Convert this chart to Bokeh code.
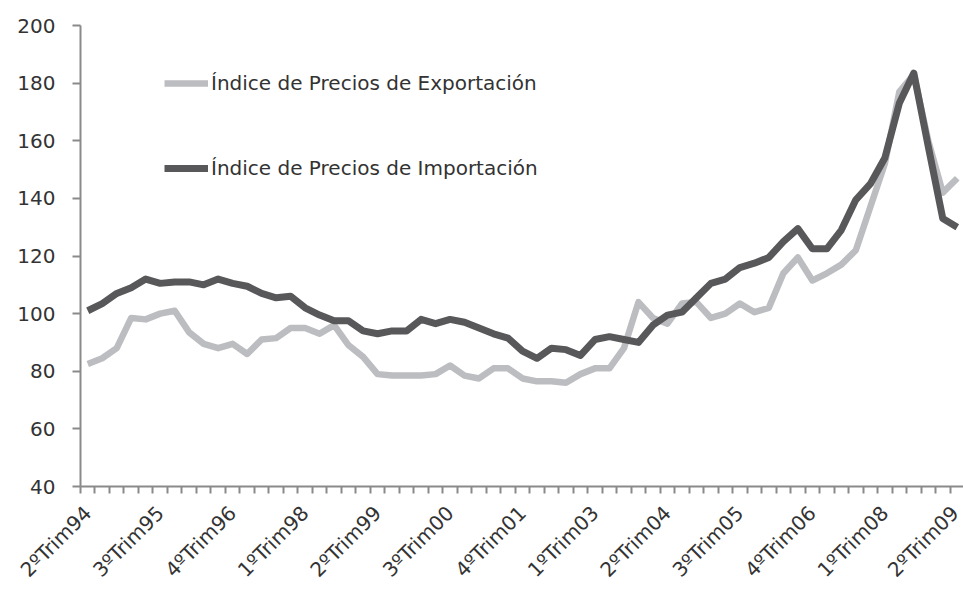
from bokeh.plotting import figure
from bokeh.models import Range1d, FixedTicker, Legend, LegendItem, ColumnDataSource
from bokeh.embed import file_html
from bokeh.resources import INLINE
import math

tick_labels = ["2ºTrim94", "3ºTrim95", "4ºTrim96", "1ºTrim98", "2ºTrim99", "3ºTrim00",
               "4ºTrim01", "1ºTrim03", "2ºTrim04", "3ºTrim05", "4ºTrim06", "1ºTrim08", "2ºTrim09"]

exportacion = [82.5, 84.5, 88, 98.5, 98, 100, 101, 93.5, 89.5, 88,
               89.5, 86, 91, 91.5, 95, 95, 93, 96, 89, 85,
               79, 78.5, 78.5, 78.5, 79, 82, 78.5, 77.5, 81, 81,
               77.5, 76.5, 76.5, 76, 79, 81, 81, 88, 104, 98.5,
               96.5, 103.5, 104, 98.5, 100, 103.5, 100.5, 102, 114, 119.5,
               111.5, 114, 117, 122, 137, 152, 177, 183, 160, 142,
               147]

importacion = [101, 103.5, 107, 109, 112, 110.5, 111, 111, 110, 112,
               110.5, 109.5, 107, 105.5, 106, 102, 99.5, 97.5, 97.5, 94,
               93, 94, 94, 98, 96.5, 98, 97, 95, 93, 91.5,
               87, 84.5, 88, 87.5, 85.5, 91, 92, 91, 90, 96,
               99.5, 100.5, 105.5, 110.5, 112, 116, 117.5, 119.5, 125, 129.5,
               122.5, 122.5, 129, 139.5, 145, 154, 173, 183.5, 158, 133,
               130]

idx = list(range(len(importacion)))
src = ColumnDataSource(dict(x=idx, exp=exportacion, imp=importacion))

FONT = "DejaVu Sans"
TXT = "#333333"
AX = "#8a8a8a"

p = figure(width=963, height=600, output_backend="svg", toolbar_location=None,
           x_range=Range1d(-0.5, 60.43), y_range=Range1d(40, 200),
           min_border_left=80, min_border_right=0, min_border_top=25, min_border_bottom=114)
p.outline_line_color = None
p.xgrid.grid_line_color = None
p.ygrid.grid_line_color = None

r_exp = p.line("x", "exp", source=src, line_color="#bcbdc0", line_width=6.5, line_join="round")
r_imp = p.line("x", "imp", source=src, line_color="#58585a", line_width=7, line_join="round")

# y axis
ya = p.yaxis[0]
ya.ticker = FixedTicker(ticks=[40, 60, 80, 100, 120, 140, 160, 180, 200], minor_ticks=[])
ya.axis_line_color = AX
ya.axis_line_width = 2
ya.major_tick_line_color = AX
ya.major_tick_line_width = 2
ya.major_tick_out = 8
ya.major_tick_in = 0
ya.minor_tick_line_color = None
ya.major_label_standoff = 17
ya.major_label_text_font = FONT
ya.major_label_text_font_size = "20px"
ya.major_label_text_color = TXT

# x axis
xa = p.xaxis[0]
label_pos = list(range(0, 61, 5))
xa.ticker = FixedTicker(ticks=label_pos, minor_ticks=[i + 0.5 for i in range(-1, 61)])
xa.major_label_overrides = {pos: lab for pos, lab in zip(label_pos, tick_labels)}
xa.axis_line_color = AX
xa.axis_line_width = 2
xa.major_tick_line_color = None
xa.major_tick_out = 7
xa.minor_tick_line_color = AX
xa.minor_tick_line_width = 2
xa.minor_tick_out = 7
xa.minor_tick_in = 0
xa.major_label_orientation = math.pi / 4
xa.major_label_standoff = 16
xa.major_label_text_font = FONT
xa.major_label_text_font_size = "20px"
xa.major_label_text_color = TXT

legend = Legend(items=[LegendItem(label="Índice de Precios de Exportación", renderers=[r_exp]),
                       LegendItem(label="Índice de Precios de Importación", renderers=[r_imp])],
                location=(84, 306), glyph_width=44, glyph_height=24, label_height=24,
                label_standoff=3, spacing=61, padding=0, margin=0,
                border_line_color=None, background_fill_alpha=0,
                label_text_font=FONT, label_text_font_size="20px", label_text_color=TXT)
p.add_layout(legend)

open("out.html", "w").write(file_html(p, INLINE))
